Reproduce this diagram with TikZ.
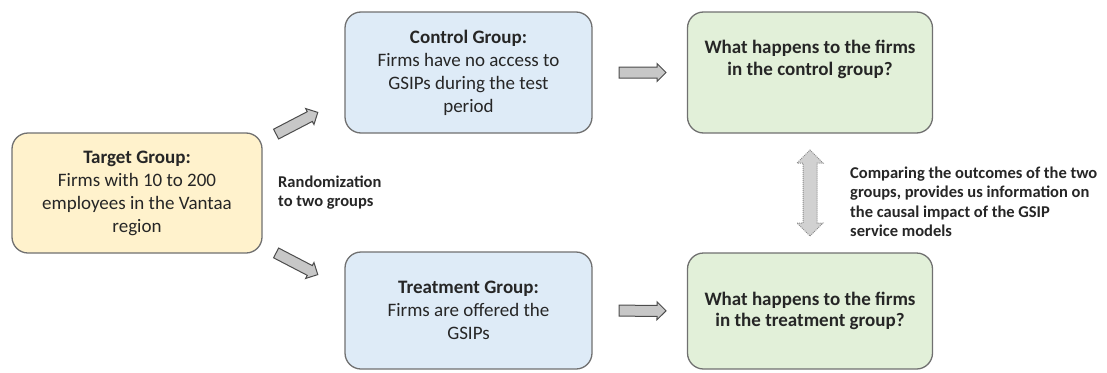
\documentclass[tikz,border=0pt]{standalone}
\usepackage{fontspec}
\setmainfont{Carlito}
\usetikzlibrary{shapes.arrows,calc}
\definecolor{targetyellow}{RGB}{255,242,204}
\definecolor{groupblue}{RGB}{222,235,247}
\definecolor{outcomegreen}{RGB}{226,240,217}
\definecolor{edgegray}{RGB}{112,112,112}
\definecolor{inkgray}{RGB}{38,38,38}

\begin{document}
\begin{tikzpicture}[x=1pt, y=-1pt,
    box/.style={draw=edgegray, line width=1.3pt, rounded corners=16pt, align=center,
      text=inkgray, font=\fontsize{19}{23}\selectfont, inner sep=0pt},
    fatarrow/.style={single arrow, draw=black!70, fill=black!22, line width=1pt,
      minimum height=47pt, inner sep=5pt, single arrow head extend=3.5pt},
    bothway/.style={double arrow, draw=black!45, densely dotted, fill=black!18, line width=1pt,
      minimum height=86pt, inner sep=6.5pt, double arrow head extend=6pt},
    note/.style={align=left, text=inkgray, font=\bfseries\fontsize{16.5}{19.5}\selectfont, inner sep=0pt}]
  \useasboundingbox (0,0) rectangle (1107,372);

  \node[box, fill=targetyellow, minimum width=250pt, minimum height=120pt] (target) at (137,193)
    {\textbf{Target Group:}\\Firms with 10 to 200\\employees in the Vantaa\\region};
  \node[box, fill=groupblue, minimum width=247pt, minimum height=121pt] (control) at (468.5,72.5)
    {\textbf{Control Group:}\\Firms have no access to\\GSIPs during the test\\period};
  \node[box, fill=groupblue, minimum width=247pt, minimum height=117pt] (treatment) at (468.5,310.5)
    {\textbf{Treatment Group:}\\Firms are offered the\\GSIPs};
  \node[box, fill=outcomegreen, font=\bfseries\fontsize{19}{22}\selectfont,
    minimum width=245pt, minimum height=121pt] (outctrl) at (810,72.5)
    {What happens to the firms\\in the control group?\\\strut};
  \node[box, fill=outcomegreen, font=\bfseries\fontsize{19}{21}\selectfont,
    minimum width=245pt, minimum height=116pt] (outtreat) at (810,311)
    {What happens to the firms\\in the treatment group?};

  \node[note, anchor=west] (random) at (278,192.5) {Randomization\\to two groups};
  \node[note, anchor=west] (compare) at (850,202)
    {Comparing the outcomes of the two\\groups, provides us information on\\the causal impact of the GSIP\\service models};

  % block arrows
  \path ($(target.north east)+(11,3)$) -- node[fatarrow, sloped] {} ($(control.south west)+(-29,-20)$);
  \path ($(target.south east)+(11,-2)$) -- node[fatarrow, sloped] {} ($(treatment.north west)+(-29,22)$);
  \path (control) -- node[fatarrow, sloped] {} (outctrl);
  \path (treatment) -- node[fatarrow, sloped] {} (outtreat);
  \path (outctrl) -- node[bothway, sloped] {} (outtreat);
\end{tikzpicture}
\end{document}
